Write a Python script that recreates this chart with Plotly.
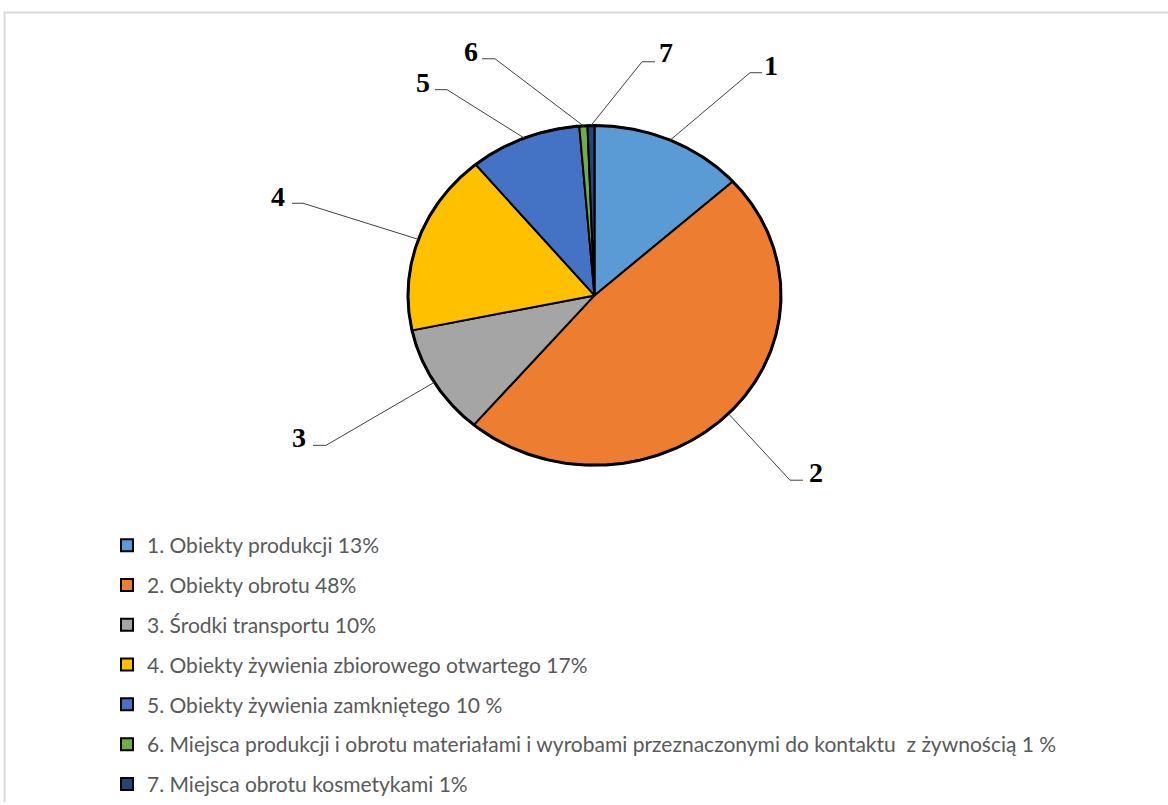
import numpy as np
import plotly.graph_objects as go

# ---------------- data ----------------
slice_ids = ["1", "2", "3", "4", "5", "6", "7"]
legend_labels = [
    "1. Obiekty produkcji 13%",
    "2. Obiekty obrotu 48%",
    "3. Środki transportu 10%",
    "4. Obiekty żywienia zbiorowego otwartego 17%",
    "5. Obiekty żywienia zamkniętego 10 %",
    "6. Miejsca produkcji i obrotu materiałami i wyrobami przeznaczonymi do kontaktu \u00a0z żywnością 1 %",
    "7. Miejsca obrotu kosmetykami 1%",
]
values = [13.3, 47.9, 10.5, 17.3, 9.7, 0.7, 0.6]
colors = ["#5B9BD5", "#ED7D31", "#A5A5A5", "#FFC000", "#4472C4", "#70AD47", "#264478"]

# ---------------- layout geometry (pixels) ----------------
W, H = 1168, 805
CX, CY = 594.5, 296.5        # pie centre
RX, RY = 186.5, 170.5        # pie radii (picture is slightly stretched)

label_pos = [(771, 66), (816, 474), (299, 439), (278, 197), (423, 83), (471, 52), (666, 53)]
leader_elbow = [(750, 73), (790, 482), (326, 447), (303, 204), (447, 90), (495, 59), (642, 62)]
leader_end = [(762, 73), (803, 482), (313, 447), (292, 204), (435, 90), (482, 59), (655, 62)]


def pt(theta_deg, r=1.0):
    t = np.radians(theta_deg)
    return CX + RX * r * np.sin(t), CY - RY * r * np.cos(t)


fig = go.Figure()

vals = np.array(values, dtype=float)
cum = np.concatenate([[0], np.cumsum(vals)]) / vals.sum() * 360.0

for i in range(len(vals)):
    a0, a1 = cum[i], cum[i + 1]
    n = max(4, int((a1 - a0) * 2))
    ang = np.linspace(a0, a1, n)
    xs, ys = pt(ang)
    px = np.concatenate([[CX], xs, [CX]])
    py = np.concatenate([[CY], ys, [CY]])
    fig.add_trace(go.Scatter(
        x=px, y=py, mode="lines", fill="toself", fillcolor=colors[i],
        line=dict(color="black", width=2), showlegend=False, hoverinfo="skip",
    ))

# outer outline
ang = np.linspace(0, 360, 721)
ox, oy = pt(ang)
fig.add_trace(go.Scatter(x=ox, y=oy, mode="lines", line=dict(color="black", width=3),
                         showlegend=False, hoverinfo="skip"))

# leader lines
for i in range(len(vals)):
    mid = (cum[i] + cum[i + 1]) / 2
    ex, ey = pt(mid)
    fig.add_trace(go.Scatter(
        x=[ex, leader_elbow[i][0], leader_end[i][0]],
        y=[ey, leader_elbow[i][1], leader_end[i][1]],
        mode="lines", line=dict(color="#404040", width=1),
        showlegend=False, hoverinfo="skip",
    ))

# slice number labels
for i, s in enumerate(slice_ids):
    fig.add_annotation(x=label_pos[i][0], y=label_pos[i][1], xref="x", yref="y",
                       text="<b>%s</b>" % s, showarrow=False,
                       font=dict(family="Liberation Serif", size=28, color="black"))

# legend entries
for i, lab in enumerate(legend_labels):
    fig.add_trace(go.Scatter(
        x=[None], y=[None], mode="markers", name=lab, legendgroup="g%d" % i,
        marker=dict(symbol="square", size=12, color=colors[i],
                    line=dict(color="black", width=2)),
    ))

# chart border
fig.add_shape(type="rect", x0=4.5, y0=12.5, x1=1180, y1=820, xref="x", yref="y",
              line=dict(color="#D9D9D9", width=2), layer="below")

fig.update_layout(
    width=W, height=H,
    margin=dict(l=0, r=0, t=0, b=0),
    paper_bgcolor="white", plot_bgcolor="white",
    xaxis=dict(range=[0, W], visible=False, fixedrange=True),
    yaxis=dict(range=[H, 0], visible=False, fixedrange=True),
    showlegend=True,
    legend=dict(
        x=107 / W, y=1 - 527 / H, xanchor="left", yanchor="top",
        font=dict(family="Lato", size=21, color="#595959"),
        tracegroupgap=9.5, bgcolor="rgba(0,0,0,0)", borderwidth=0,
    ),
)

fig.write_html("out.html", config={"displayModeBar": False},
               post_script="document.body.style.margin='0px';document.body.style.padding='0px';")
